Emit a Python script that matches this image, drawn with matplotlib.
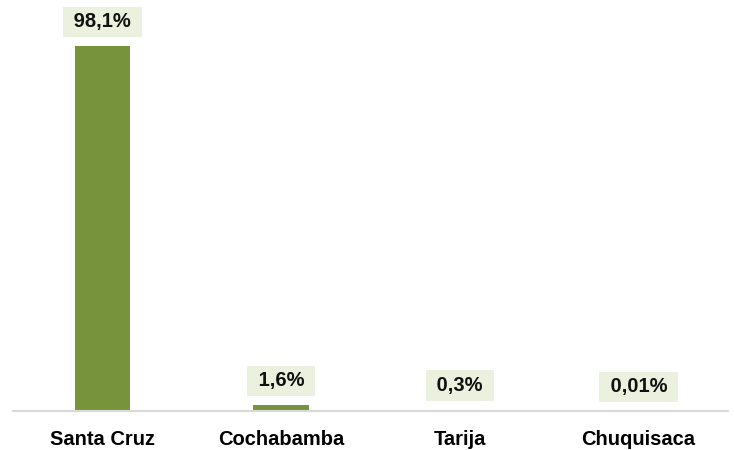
import matplotlib.pyplot as plt
import numpy as np

# Departamentos y participación
categorias = ['Santa Cruz', 'Cochabamba', 'Tarija', 'Chuquisaca']
valores = [98.1, 1.6, 0.3, 0.01]
etiquetas = ['98,1%', '1,6%', '0,3%', '0,01%']

plt.rcParams['font.family'] = ['Liberation Sans', 'DejaVu Sans']

fig = plt.figure(figsize=(7.34, 4.5), dpi=100)
ax = fig.add_axes([13 / 734, 39 / 450, 715 / 734, 409 / 450])

x = np.arange(len(categorias))
ax.bar(x, valores, width=0.31, color='#77933C')

for xi, v, lab in zip(x, valores, etiquetas):
    ax.annotate(' ' + lab + ' ', (xi, v), xytext=(0, 17.5), textcoords='offset points',
                ha='center', va='center', fontsize=14.5, fontweight='bold',
                color='#111111',
                bbox=dict(boxstyle='square,pad=0.28', fc='#EBF1DE', ec='none'))

ax.set_xlim(-0.5, len(categorias) - 0.5)
ax.set_ylim(0, 110)
ax.set_xticks(x)
ax.set_xticklabels(categorias, fontsize=14.5, fontweight='bold')
ax.tick_params(axis='x', length=0, pad=14)
ax.set_yticks([])
for s in ['top', 'right', 'left']:
    ax.spines[s].set_visible(False)
ax.spines['bottom'].set_color('#D9D9D9')
ax.spines['bottom'].set_linewidth(1.5)

plt.savefig('out.png', dpi=100)
